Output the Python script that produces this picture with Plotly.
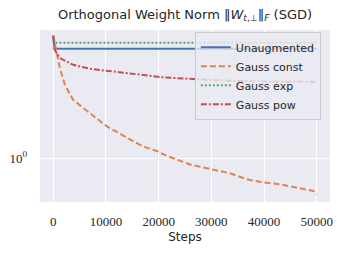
import plotly.graph_objects as go

# ---- data ----
steps_unaug = [0, 250, 10000, 20000, 30000, 40000, 50000]
norm_unaug = [6.6, 5.40, 5.40, 5.40, 5.40, 5.40, 5.40]

steps_const = [0, 645, 1272, 2221, 3796, 5694, 6966, 7592, 10135, 13286, 16456,
               17727, 19625, 21523, 24223, 25946, 27217, 30368, 33538, 36707,
               39858, 43027, 46197, 49348, 50000]
norm_const = [6.6, 5.21, 4.01, 3.10, 2.46, 2.17, 2.00, 1.91, 1.64, 1.42, 1.23,
              1.18, 1.12, 1.04, 0.96, 0.91, 0.888, 0.835, 0.794, 0.724,
              0.691, 0.670, 0.636, 0.605, 0.574]

steps_exp = [0, 250, 10000, 20000, 30000, 40000, 50000]
norm_exp = [6.6, 5.93, 5.93, 5.93, 5.93, 5.93, 5.93]

steps_pow = [0, 300, 1272, 3796, 6966, 10135, 13286, 16456, 20821, 26515,
             33538, 41130, 50000]
norm_pow = [6.6, 5.30, 4.68, 4.22, 3.97, 3.85, 3.72, 3.62, 3.48, 3.39,
            3.30, 3.26, 3.24]

x_ticks = [0, 10000, 20000, 30000, 40000, 50000]
y_ticks = [1]
y_tick_text = ["10<sup>0</sup>"]

title = "Orthogonal Weight Norm ‖<i>W</i><sub><i>t</i>,⊥</sub>‖<sub><i>F</i></sub> (SGD)"

fig = go.Figure()
fig.add_trace(go.Scatter(x=steps_unaug, y=norm_unaug, mode="lines", name="Unaugmented",
                         line=dict(color="#4C72B0", width=2)))
fig.add_trace(go.Scatter(x=steps_const, y=norm_const, mode="lines", name="Gauss const",
                         line=dict(color="#DD8452", width=2, dash="6px,3px")))
fig.add_trace(go.Scatter(x=steps_exp, y=norm_exp, mode="lines", name="Gauss exp",
                         line=dict(color="#55A868", width=2, dash="2px,2px")))
fig.add_trace(go.Scatter(x=steps_pow, y=norm_pow, mode="lines", name="Gauss pow",
                         line=dict(color="#C44E52", width=2, dash="6px,2px,2px,2px")))

fig.update_layout(
    width=346, height=254,
    margin=dict(l=40, r=16, t=30, b=52, autoexpand=False),
    paper_bgcolor="white",
    plot_bgcolor="#EAEAF2",
    font=dict(family="DejaVu Sans", size=11, color="#262626"),
    title=dict(text=title, x=0.5, xref="paper", xanchor="center",
               y=1 - 14 / 254, yref="container", yanchor="middle", automargin=False,
               font=dict(family="DejaVu Sans", size=13, color="#262626")),
    legend=dict(x=0.534, xanchor="left", y=0.99, yanchor="top",
                bgcolor="rgba(234,234,242,0.8)", bordercolor="#CCCCCC", borderwidth=1,
                font=dict(family="DejaVu Sans", size=11, color="#262626"),
                tracegroupgap=0, itemwidth=30),
    showlegend=True,
)
fig.update_xaxes(
    range=[-2500, 52500], tickvals=x_ticks, ticktext=[str(v) for v in x_ticks],
    showgrid=True, gridcolor="white", gridwidth=1.2, zeroline=False, showline=False,
    ticks="", ticklabelstandoff=10, automargin=False,
    tickfont=dict(family="Liberation Serif", size=13, color="#262626"),
    title=dict(text="Steps", font=dict(family="DejaVu Sans", size=12, color="#262626"), standoff=4),
)
fig.update_yaxes(
    type="log", range=[-0.292, 0.858], tickvals=y_ticks, ticktext=y_tick_text,
    showgrid=True, gridcolor="white", gridwidth=1.2, zeroline=False, showline=False,
    ticks="", ticklabelstandoff=12, automargin=False,
    tickfont=dict(family="Liberation Serif", size=13, color="#262626"),
)

fig.write_html("out.html", config={"displayModeBar": False},
               post_script="document.body.style.margin='0';")
